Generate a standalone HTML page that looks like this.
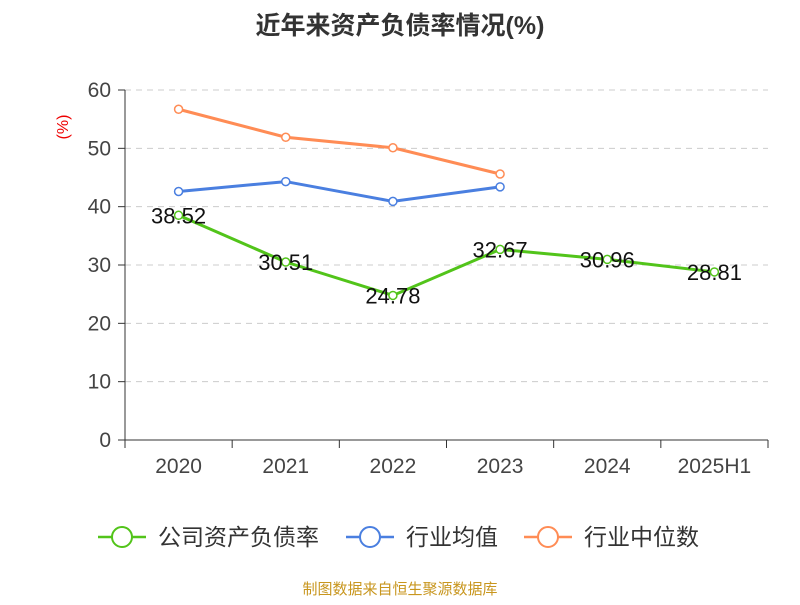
<!DOCTYPE html>
<html><head><meta charset="utf-8"><style>
body{margin:0;background:#fff;}
svg text{font-family:"Liberation Sans","Noto Sans CJK SC",sans-serif;}
</style></head><body>
<svg id="chart" width="800" height="600" xmlns="http://www.w3.org/2000/svg">
<text x="400" y="34" text-anchor="middle" font-size="25" font-weight="bold" fill="#333">近年来资产负债率情况(%)</text>
<text x="68" y="127" font-size="16" fill="#e00" transform="rotate(-90 68 127)" text-anchor="middle">(%)</text>
<g id="grid"></g><g id="axes"></g><g id="series"></g>
<g>
 <g><line x1="98" y1="537" x2="146" y2="537" stroke="#52c41a" stroke-width="2.5"/><circle cx="122" cy="537" r="10" fill="#fff" stroke="#52c41a" stroke-width="2"/><text x="158" y="545" font-size="23" fill="#333">公司资产负债率</text></g>
 <g><line x1="346" y1="537" x2="394" y2="537" stroke="#4a7fe0" stroke-width="2.5"/><circle cx="370" cy="537" r="10" fill="#fff" stroke="#4a7fe0" stroke-width="2"/><text x="406" y="545" font-size="23" fill="#333">行业均值</text></g>
 <g><line x1="524" y1="537" x2="572" y2="537" stroke="#ff8c55" stroke-width="2.5"/><circle cx="548" cy="537" r="10" fill="#fff" stroke="#ff8c55" stroke-width="2"/><text x="584" y="545" font-size="23" fill="#333">行业中位数</text></g>
</g>
<text x="400" y="594" text-anchor="middle" font-size="15" fill="#c8961e">制图数据来自恒生聚源数据库</text>
</svg>
<script>
const categories=["2020","2021","2022","2023","2024","2025H1"];
const companyValues=[38.52,30.51,24.78,32.67,30.96,28.81];
const industryAvg=[42.6,44.3,40.9,43.4];
const industryMedian=[56.7,51.9,50.1,45.6];
const yTicks=[0,10,20,30,40,50,60];
const NS="http://www.w3.org/2000/svg";
const L=125,R=768,T=90,B=440,yMax=60;
const bw=(R-L)/categories.length;
const xs=i=>L+bw*(i+0.5);
const ys=v=>B-(v/yMax)*(B-T);
function mk(tag,attrs,parent){const e=document.createElementNS(NS,tag);for(const k in attrs)e.setAttribute(k,attrs[k]);parent.appendChild(e);return e;}
const grid=document.getElementById('grid'),axes=document.getElementById('axes'),ser=document.getElementById('series');
yTicks.forEach(t=>{
 if(t>0){const g=mk('line',{x1:L,x2:R,y1:ys(t),y2:ys(t),stroke:'#ccc','stroke-dasharray':'6,5'},grid);
 
 }
 const tk=mk('line',{x1:L-7,x2:L,y1:ys(t),y2:ys(t),stroke:'#333'},axes);
 
 
 const lb=mk('text',{x:L-14,y:ys(t)+7,'text-anchor':'end','font-size':21,fill:'#444'},axes);lb.textContent=t;
 
 
});
const ya=mk('line',{x1:L,x2:L,y1:T,y2:B,stroke:'#333'},axes);


const xa=mk('line',{x1:L,x2:R,y1:B,y2:B,stroke:'#333'},axes);


for(let i=0;i<=categories.length;i++){const t=mk('line',{x1:L+bw*i,x2:L+bw*i,y1:B,y2:B+8,stroke:'#333'},axes);
 
 }
categories.forEach((c,i)=>{const lb=mk('text',{x:xs(i),y:B+33,'text-anchor':'middle','font-size':21,fill:'#444'},axes);lb.textContent=c;
 
 });
function series(vals,color,name,labels){
 const g=mk('g',{},ser);
 
 
 const p=mk('polyline',{points:vals.map((v,i)=>xs(i)+','+ys(v)).join(' '),fill:'none',stroke:color,'stroke-width':3},g);
 
 
 vals.forEach((v,i)=>{const c=mk('circle',{cx:xs(i),cy:ys(v),r:4,fill:'#fff',stroke:color,'stroke-width':1.5},g);
  
  
  if(labels){const t=mk('text',{x:xs(i),y:ys(v)+8,'text-anchor':'middle','font-size':22,fill:'#111'},g);t.textContent=v.toFixed(2);
  
  }});
}
series(industryMedian,'#ff8c55','industry-median-series',false);
series(industryAvg,'#4a7fe0','industry-avg-series',false);
series(companyValues,'#52c41a','company-series',true);
</script>
</body></html>
